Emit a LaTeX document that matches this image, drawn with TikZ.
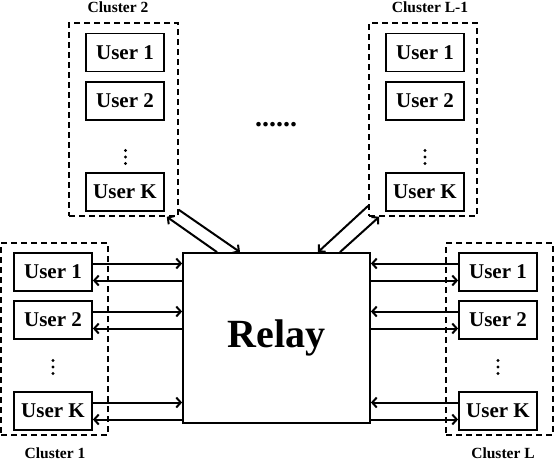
\documentclass[tikz,border=0pt]{standalone}
\usepackage{fontspec}
\setmainfont{Liberation Serif}
\usetikzlibrary{arrows.meta}
\tikzset{
	userbox/.style={draw, line width=1.8pt, minimum width=78pt, minimum height=38pt, inner sep=0pt, font=\fontsize{21}{21}\selectfont\bfseries},
	clusterbox/.style={draw, dashed, dash pattern=on 6pt off 4pt, line width=1.6pt, inner sep=0pt},
	clustername/.style={font=\fontsize{15.5}{15.5}\selectfont\bfseries, inner sep=1pt},
	link/.style={line width=2pt, >={Straight Barb[length=4.5pt,width=10pt]}}
}
\begin{document}
\begin{tikzpicture}[x=1pt, y=-1pt]
			\useasboundingbox (0,0) rectangle (554,461);
			%relay
			\node[draw, line width=1.8pt, minimum width=187pt, minimum height=170pt, font=\fontsize{40}{40}\selectfont\bfseries] (relay) at (276.5,338) {Relay};
			
			%clusters
			\node[clusterbox, minimum width=107pt, minimum height=192pt] (c1) at (54.5,339) {};
			\node[clusterbox, minimum width=109pt, minimum height=193pt] (c2) at (123.5,119.5) {};
			\node[clusterbox, minimum width=108pt, minimum height=193pt] (cL1) at (423,119.5) {};
			\node[clusterbox, minimum width=107pt, minimum height=192pt] (cL) at (499.5,339) {};
			\node[clustername] (n1) at (55,453) {Cluster 1};
			\node[clustername] (n2) at (118,7) {Cluster 2};
			\node[clustername] (nL1) at (430,7) {Cluster L-1};
			\node[clustername] (nL) at (503,453) {Cluster L};
			
			%users
			\foreach \u/\y in {1/272, 2/320, K/411}{
				\node[userbox] (c1u\u) at (53,\y) {User \u};
				\node[userbox] (cLu\u) at (498,\y) {User \u};
			}
			\foreach \u/\y in {1/52.5, 2/101, K/192}{
				\node[userbox] (c2u\u) at (125,\y) {User \u};
				\node[userbox] (cL1u\u) at (425,\y) {User \u};
			}
			%vertical dots
			\foreach \x/\y in {53/367, 498/367, 125.5/157, 425/157}{
				\foreach \d in {-6.5, 0, 6.5}{
					\fill (\x, \y+\d) circle (1.6pt);
				}
			}
			\node[font=\fontsize{28}{28}\selectfont\bfseries, anchor=base] (more) at (276,126) {......};
			
			%links
			\foreach \u in {1, 2, K}{
				\draw[link,->] ([yshift=8.5pt]c1u\u.east) -- ([yshift=8.5pt]c1u\u.east -| relay.west);
				\draw[link,<-] ([yshift=-8.5pt]c1u\u.east) -- ([yshift=-8.5pt]c1u\u.east -| relay.west);
				\draw[link,->] ([yshift=8.5pt]cLu\u.west) -- ([yshift=8.5pt]cLu\u.west -| relay.east);
				\draw[link,<-] ([yshift=-8.5pt]cLu\u.west) -- ([yshift=-8.5pt]cLu\u.west -| relay.east);
			}
			\draw[link,->] ([yshift=7pt]c2.south east) -- ([xshift=-36.5pt]relay.north);
			\draw[link,->] ([xshift=-59.5pt]relay.north) -- ([xshift=-12pt]c2.south east);
			\draw[link,->] ([yshift=11pt]cL1.south west) -- ([xshift=41.5pt]relay.north);
			\draw[link,->] ([xshift=63.5pt]relay.north) -- ([xshift=11pt]cL1.south west);
		\end{tikzpicture}
\end{document}
